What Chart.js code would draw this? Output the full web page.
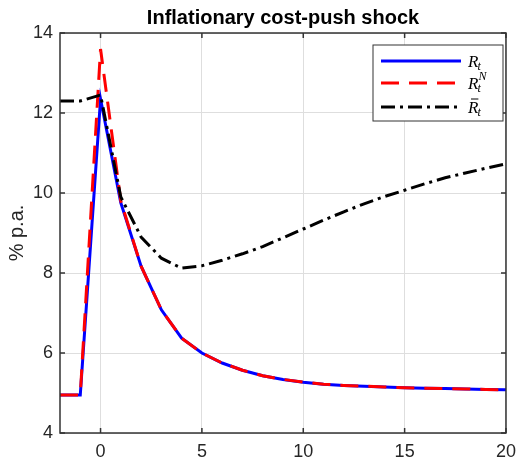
<!DOCTYPE html>
<html>
<head>
<meta charset="utf-8">
<script src="https://cdn.jsdelivr.net/npm/chart.js@4.4.0/dist/chart.umd.min.js"></script>
<style>
  body { margin: 0; background: #fff; }
  canvas { display: block; }
</style>
</head>
<body>
<canvas id="irf" width="524" height="460"></canvas>
<script>
// quarters after the shock
const periods = [-2, -1, 0, 1, 2, 3, 4, 5, 6, 7, 8, 9, 10, 11, 12, 13, 14, 15, 16, 17, 18, 19, 20];
// R_t, actual policy rate
const rActual = [4.95, 4.95, 12.35, 9.75, 8.17, 7.08, 6.37, 6.0, 5.75, 5.57, 5.43, 5.34, 5.27, 5.22, 5.19, 5.17, 5.15, 5.13, 5.12, 5.11, 5.10, 5.09, 5.08];
// R_t^N
const rNatural = [4.95, 4.95, 13.6, 9.8, 8.17, 7.08, 6.37, 6.0, 5.75, 5.57, 5.43, 5.34, 5.27, 5.22, 5.19, 5.17, 5.15, 5.13, 5.12, 5.11, 5.10, 5.09, 5.08];
// R bar
const rBar = [12.3, 12.3, 12.45, 9.9, 8.9, 8.37, 8.12, 8.18, 8.32, 8.48, 8.66, 8.88, 9.1, 9.32, 9.53, 9.73, 9.91, 10.07, 10.23, 10.38, 10.5, 10.62, 10.73];
const xTicks = [0, 5, 10, 15, 20];
const yTicks = [4, 6, 8, 10, 12, 14];
const chartTitle = 'Inflationary cost-push shock';
const yTitle = '% p.a.';

const axisColor = '#333333';
const gridColor = '#dedede';
const sans = '"Liberation Sans", Arial, sans-serif';

function toPoints(vals) {
    return periods.map((p, i) => ({ x: p, y: vals[i] }));
}

const datasets = [
    { label: 'R', sub: 't', sup: '', bar: false, data: toPoints(rActual),
      borderColor: '#0000ff', borderWidth: 3, borderDash: [], order: 3 },
    { label: 'R', sub: 't', sup: 'N', bar: false, data: toPoints(rNatural),
      borderColor: '#ff0000', borderWidth: 3, borderDash: [18, 10], order: 2 },
    { label: 'R', sub: 't', sup: '', bar: true, data: toPoints(rBar),
      borderColor: '#000000', borderWidth: 3, borderDash: [14, 5, 3, 5], order: 1 }
];
datasets.forEach(d => { d.pointRadius = 0; d.tension = 0; d.fill = false; });

// box, inner ticks, title and legend (MATLAB look)
const matlabDecor = {
    id: 'matlabDecor',
    afterDraw(chart) {
        const c = chart.ctx;
        const a = chart.chartArea;
        const xs = chart.scales.x, ys = chart.scales.y;
        c.save();
        c.strokeStyle = axisColor;
        c.lineWidth = 1.5;
        c.setLineDash([]);
        c.strokeRect(a.left, a.top, a.right - a.left, a.bottom - a.top);
        const tl = 5;
        c.beginPath();
        xTicks.forEach(v => {
            const px = xs.getPixelForValue(v);
            c.moveTo(px, a.bottom); c.lineTo(px, a.bottom - tl);
            c.moveTo(px, a.top); c.lineTo(px, a.top + tl);
        });
        yTicks.forEach(v => {
            const py = ys.getPixelForValue(v);
            c.moveTo(a.left, py); c.lineTo(a.left + tl, py);
            c.moveTo(a.right, py); c.lineTo(a.right - tl, py);
        });
        c.stroke();

        // title
        c.fillStyle = '#000';
        c.font = 'bold 20px ' + sans;
        c.textAlign = 'center';
        c.textBaseline = 'alphabetic';
        c.fillText(chartTitle, (a.left + a.right) / 2, 24);

        // legend
        const bx = 373, by = 45, bw = 130, bh = 76;
        c.fillStyle = '#fff';
        c.fillRect(bx, by, bw, bh);
        c.strokeStyle = axisColor;
        c.lineWidth = 1;
        c.strokeRect(bx, by, bw, bh);
        const rowY = [61, 83, 107];
        datasets.forEach((d, i) => {
            const y = rowY[i];
            c.strokeStyle = d.borderColor;
            c.lineWidth = d.borderWidth;
            c.setLineDash(d.borderDash);
            c.beginPath();
            c.moveTo(381, y); c.lineTo(461, y);
            c.stroke();
            c.setLineDash([]);
            const tx = 468;
            c.fillStyle = '#000';
            c.textAlign = 'left';
            c.font = 'italic 17px "Liberation Serif", "Times New Roman", serif';
            c.fillText(d.label, tx, y + 6);
            const w = c.measureText(d.label).width;
            if (d.bar) {
                c.strokeStyle = '#000';
                c.lineWidth = 1;
                c.beginPath();
                c.moveTo(tx + 3, y - 8); c.lineTo(tx + w, y - 8);
                c.stroke();
            }
            c.font = 'italic 12px "Liberation Serif", "Times New Roman", serif';
            c.fillText(d.sub, tx + w - 1, y + 9);
            if (d.sup) c.fillText(d.sup, tx + w, y - 3);
        });
        c.restore();
    }
};

const chart = new Chart(document.getElementById('irf').getContext('2d'), {
    type: 'line',
    data: { datasets: datasets },
    options: {
        responsive: false,
        animation: false,
        layout: { padding: { top: 33, right: 13, left: 0, bottom: 0 } },
        plugins: {
            legend: { display: false },
            tooltip: { enabled: false },
            title: { display: false }
        },
        scales: {
            x: {
                type: 'linear',
                min: -2, max: 20,
                afterFit: s => { s.height = 27; },
                afterBuildTicks: s => { s.ticks = xTicks.map(v => ({ value: v })); },
                ticks: { color: '#262626', padding: 8, font: { size: 18, family: sans } },
                grid: { color: gridColor, drawTicks: false },
                border: { display: false }
            },
            y: {
                min: 4, max: 14,
                afterFit: s => { s.width = 60; },
                afterBuildTicks: s => { s.ticks = yTicks.map(v => ({ value: v })); },
                ticks: { color: '#262626', padding: 7, font: { size: 18, family: sans } },
                grid: { color: gridColor, drawTicks: false },
                border: { display: false },
                title: {
                    display: true, text: yTitle, color: '#262626',
                    font: { size: 20, family: sans },
                    padding: { top: 5, bottom: 0 }
                }
            }
        }
    },
    plugins: [matlabDecor]
});
</script>
</body>
</html>
